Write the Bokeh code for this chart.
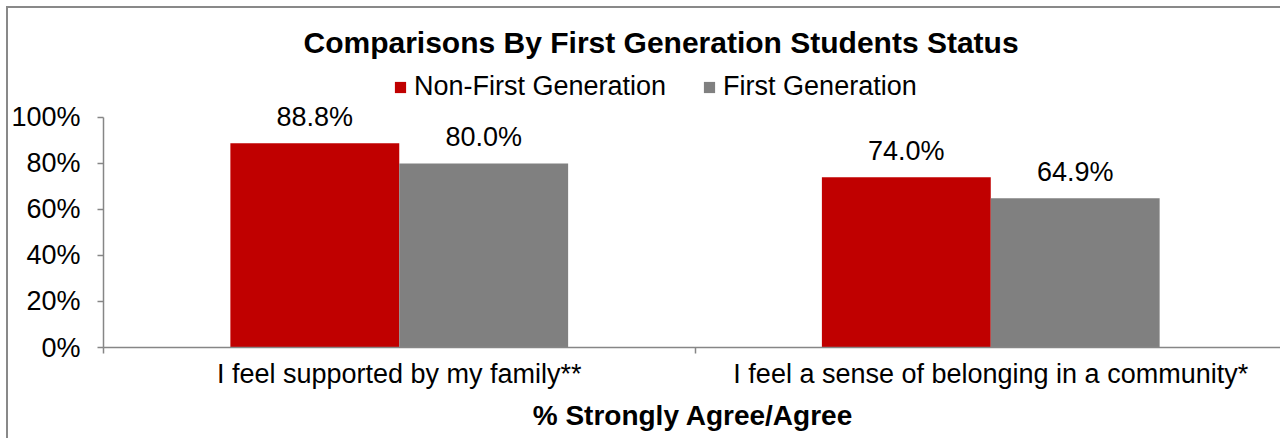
from bokeh.plotting import figure
from bokeh.models import ColumnDataSource, Range1d, FixedTicker, Label, Legend, LegendItem
from bokeh.transform import dodge
from bokeh.core.properties import value
from bokeh.embed import file_html
from bokeh.resources import INLINE

# ---- data ----
title_text = "Comparisons By First Generation Students Status"
x_axis_title = "% Strongly Agree/Agree"
categories = ["I feel supported by my family**", "I feel a sense of belonging in a community*"]
series_names = ["Non-First Generation", "First Generation"]
non_first_gen = [0.888, 0.740]
first_gen = [0.800, 0.649]
y_ticks = [0.0, 0.2, 0.4, 0.6, 0.8, 1.0]
y_tick_labels = ["0%", "20%", "40%", "60%", "80%", "100%"]

# ---- style ----
RED = "#C00000"
GRAY = "#808080"
AXIS = "#868686"
FONT = "Liberation Sans"
BW = 0.2855

centers = [i + 0.5 for i in range(len(categories))]
bounds = [float(i) for i in range(len(categories) + 1)]

src = ColumnDataSource(dict(
    x=centers,
    a=non_first_gen,
    b=first_gen,
    a_lab=[f"{v * 100:.1f}%" for v in non_first_gen],
    b_lab=[f"{v * 100:.1f}%" for v in first_gen],
))

p = figure(width=1274, height=432, output_backend="svg", toolbar_location=None,
           x_range=Range1d(0, 1.9932), y_range=Range1d(0, 1.4739),
           min_border_left=94, min_border_right=0, min_border_top=0, min_border_bottom=93)
p.styles = {"margin-left": "6px", "margin-top": "6px",
            "border-top": "2px solid #898989", "border-left": "2px solid #898989"}
p.outline_line_color = None
p.grid.visible = False
p.background_fill_color = "white"
p.border_fill_color = "white"

r1 = p.vbar(x=dodge("x", -BW / 2), top="a", width=BW, source=src,
            fill_color=RED, line_color=None)
r2 = p.vbar(x=dodge("x", BW / 2), top="b", width=BW, source=src,
            fill_color=GRAY, line_color=None)

for xcol, ycol, lab in ((-BW / 2, "a", "a_lab"), (BW / 2, "b", "b_lab")):
    p.text(x=dodge("x", xcol), y=ycol, text=lab, source=src,
           text_align="center", text_baseline="middle", y_offset=-26,
           text_font=value(FONT), text_font_size="27px", text_color="black")

# y axis
ya = p.yaxis[0]
ya.ticker = FixedTicker(ticks=y_ticks)
ya.major_label_overrides = {t: l for t, l in zip(y_ticks, y_tick_labels)}
ya.bounds = (0, 1)
ya.axis_line_color = AXIS
ya.axis_line_width = 1.5
ya.major_tick_line_color = AXIS
ya.major_tick_line_width = 1.5
ya.major_tick_out = 6
ya.major_tick_in = 0
ya.minor_tick_line_color = None
ya.major_label_standoff = 17
ya.major_label_text_font = FONT
ya.major_label_text_font_size = "27px"
ya.major_label_text_color = "black"

# x axis
xa = p.xaxis[0]
xa.ticker = FixedTicker(ticks=centers, minor_ticks=bounds)
xa.major_label_overrides = {c: t for c, t in zip(centers, categories)}
xa.axis_line_color = AXIS
xa.axis_line_width = 1.5
xa.major_tick_line_color = None
xa.major_tick_out = 0
xa.major_tick_in = 0
xa.minor_tick_line_color = AXIS
xa.minor_tick_line_width = 1.5
xa.minor_tick_out = 6
xa.minor_tick_in = 0
xa.major_label_standoff = 5
xa.major_label_text_font = FONT
xa.major_label_text_font_size = "27px"
xa.major_label_text_color = "black"
xa.axis_label = x_axis_title
xa.axis_label_standoff = 8
xa.axis_label_text_font = FONT
xa.axis_label_text_font_size = "28px"
xa.axis_label_text_font_style = "bold"
xa.axis_label_text_color = "black"

# title
p.add_layout(Label(x=0.9426, y=1.324, text=title_text, text_align="center",
                   text_baseline="middle", text_font=FONT, text_font_size="30px",
                   text_font_style="bold", text_color="black"))

legend = Legend(items=[LegendItem(label=series_names[0], renderers=[r1]),
                       LegendItem(label=series_names[1], renderers=[r2])],
                orientation="horizontal", location=(290, 245),
                glyph_width=14, glyph_height=14, label_standoff=7, spacing=36,
                padding=0, margin=0, border_line_color=None, background_fill_alpha=0,
                label_text_font=FONT, label_text_font_size="27px", label_text_color="black")
p.add_layout(legend)

open("out.html", "w").write(file_html(p, INLINE))
